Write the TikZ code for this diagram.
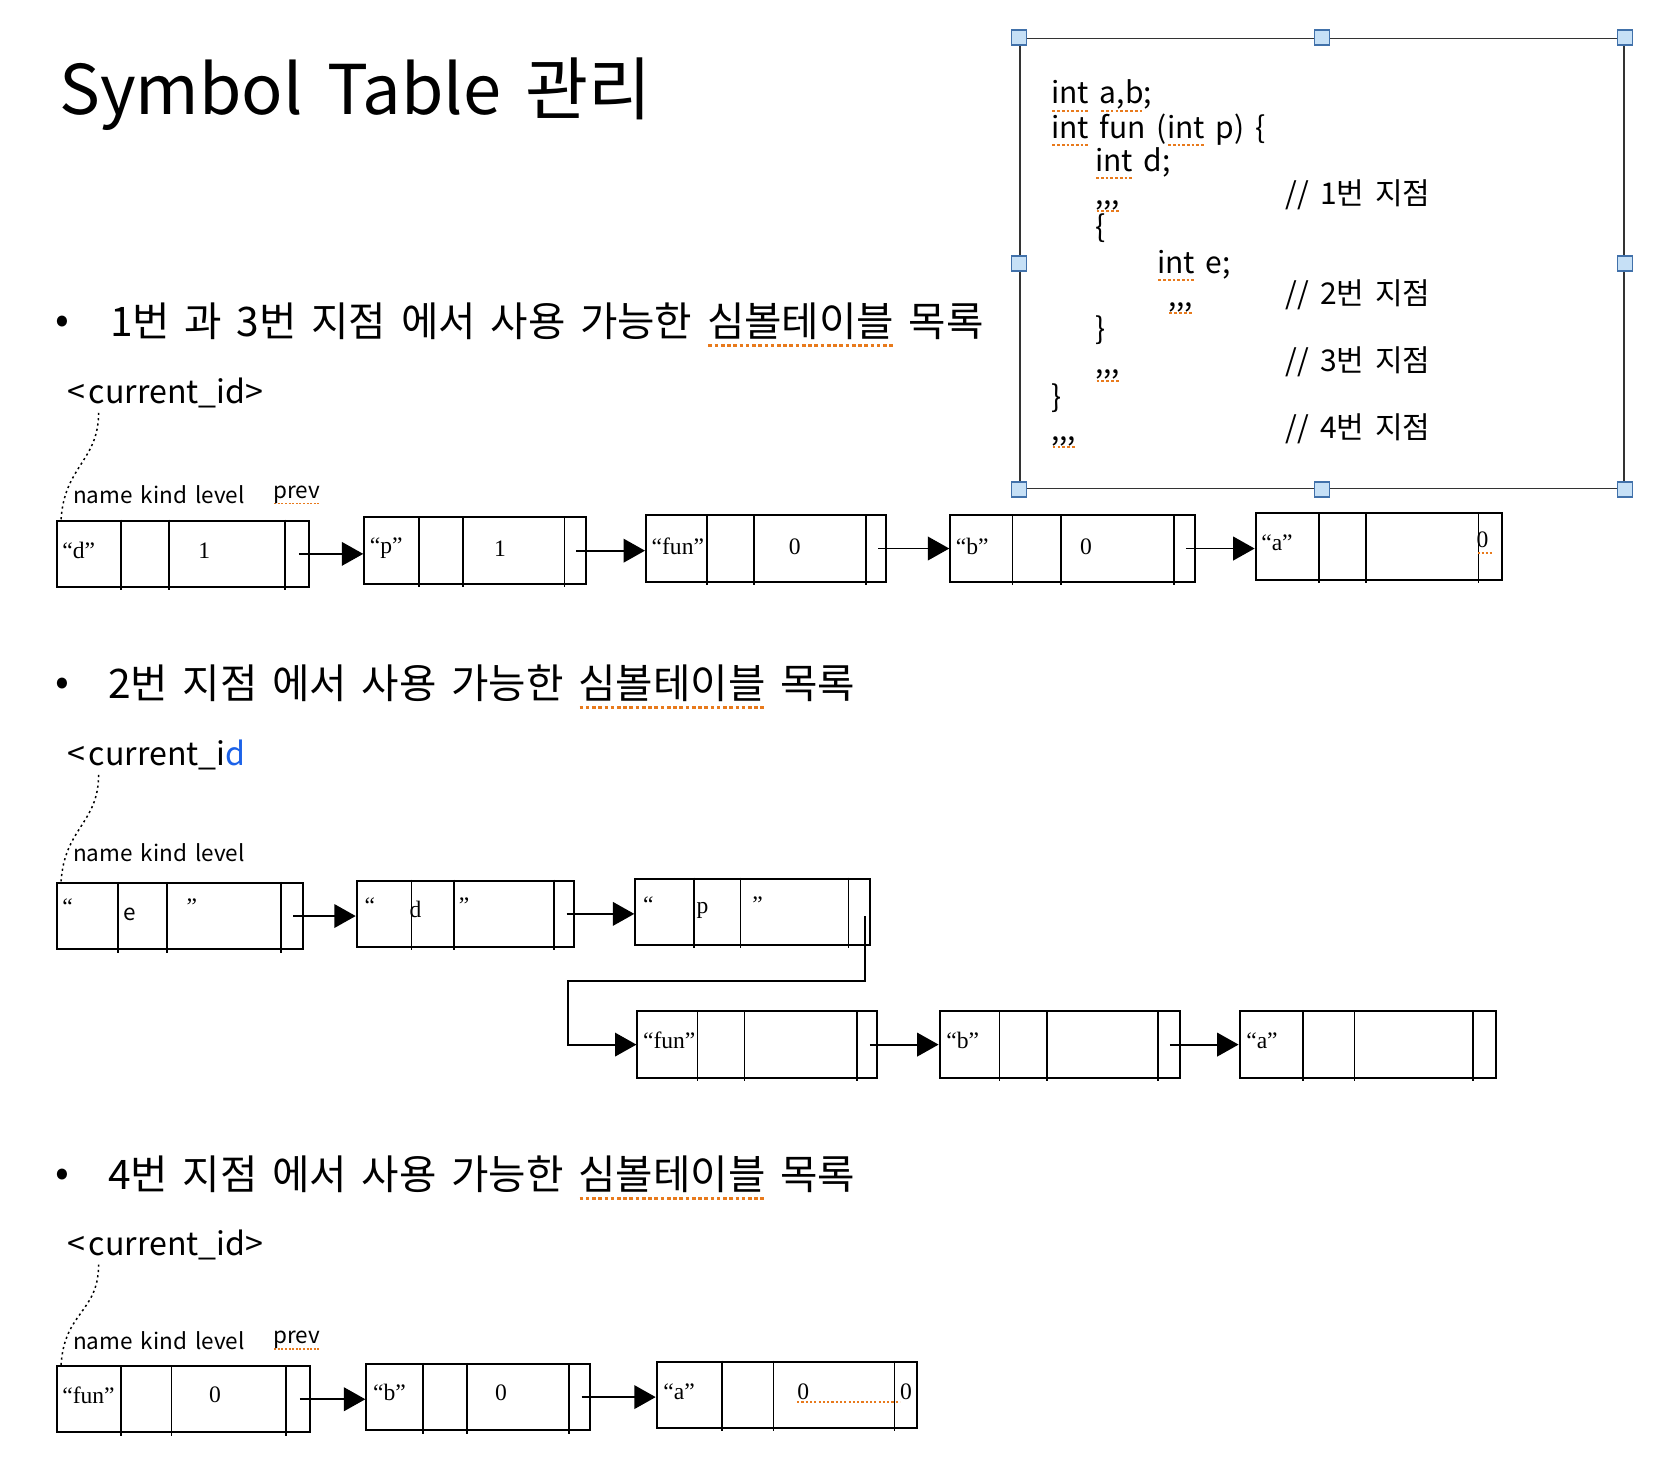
\documentclass[tikz,border=0pt]{standalone}
\usepackage{fontspec}
\setmainfont{Noto Sans CJK KR}
\newfontfamily\titlefont{Noto Sans CJK KR}[WordSpace=1.5]
\newfontfamily\headfont{Noto Sans CJK KR}[WordSpace=2.6]
\newfontfamily\codefont{Noto Sans CJK KR}[WordSpace=2.0]
\newfontfamily\fieldfont{Noto Sans CJK KR}[WordSpace=1.6]
\newfontfamily\cellfont{Liberation Serif}
\usetikzlibrary{arrows.meta,positioning}

\definecolor{handlefill}{RGB}{198,224,246}
\definecolor{handledraw}{RGB}{65,113,170}
\definecolor{spellorange}{RGB}{232,122,28}
\definecolor{idblue}{RGB}{28,98,232}

% spell-check underline
\newlength\spellwd
\newcommand{\spell}[1]{\settowidth{\spellwd}{#1}\rlap{\textcolor{spellorange}{\raisebox{-0.26em}{\xleaders\hbox{\kern0.03em\rule{0.09em}{0.07em}\kern0.03em}\hskip\spellwd}}}#1}

% one symbol record: name, x, y(top), width, dividers
\newcommand{\symrec}[7]{%
  \node[recbox, minimum width=#4pt] (#1) at (#2,#3) {};
  \foreach \off in {#5,#6,#7}
    \draw[divider] ([xshift=\off pt]#1.north west) -- ++(0,-66pt);
}

\tikzset{
  titletext/.style={font=\titlefont\fontsize{64}{68}\selectfont, anchor=west, inner sep=0pt},
  headtext/.style={font=\headfont\fontsize{38}{42}\selectfont, inner sep=0pt},
  idtext/.style={font=\fontsize{30}{34}\selectfont, anchor=west, inner sep=0pt},
  fieldtext/.style={font=\fieldfont\fontsize{21}{24}\selectfont, anchor=west, inner sep=0pt},
  codetext/.style={font=\codefont\fontsize{28}{32}\selectfont, anchor=base west, inner sep=0pt},
  celltext/.style={font=\cellfont\fontsize{22}{24}\selectfont, anchor=west, inner sep=0pt},
  recbox/.style={draw, line width=1.9pt, minimum height=62pt, inner sep=0pt, anchor=north west},
  divider/.style={line width=1.5pt},
  link/.style={line width=1.8pt, -{Triangle[length=20pt,width=22pt]}},
  idptr/.style={line width=1.4pt, dash pattern=on 2pt off 3pt},
  codeframe/.style={draw=black!80, line width=1.8pt, inner sep=0pt},
  handle/.style={draw=handledraw, fill=handlefill, line width=1.3pt, minimum size=14pt, inner sep=0pt},
  squiggle/.style={draw=spellorange, line width=1.3pt, dash pattern=on 2pt off 2pt}
}

\begin{document}
\begin{tikzpicture}[x=1pt,y=-1pt]
\useasboundingbox (0,0) rectangle (1568,1365);

\node[titletext] (title) at (55,88) {Symbol Table 관리};

% code listing
\node[codeframe, minimum width=564pt, minimum height=420pt, anchor=north west] (code) at (951,35) {};
\foreach \a in {north west,north,north east,west,east,south west,south,south east}
  \node[handle] at (code.\a) {};
\foreach \cx/\cy/\txt in {981/97/{\spell{int} \spell{a,b};},
    981/129/{\spell{int} fun (\spell{int} p) \{},
    1022/160/{\spell{int} d;}, 1022/191/{\spell{,,,}}, 1022/222/{\{},
    1080/255/{\spell{int} e;}, 1090/286/{\spell{,,,}}, 1022/317/{\}},
    1022/349/{\spell{,,,}}, 981/380/{\}}, 981/411/{\spell{,,,}},
    1200/191/{// 1번 지점}, 1200/284/{// 2번 지점},
    1200/347/{// 3번 지점}, 1200/409/{// 4번 지점}}
  \node[codetext] at (\cx,\cy) {\txt};

% ---- points 1 and 3
\node[headtext] (dot1) at (58,303) {•};
\node[headtext, right=38pt of dot1] (head1) {1번 과 3번 지점 에서 사용 가능한 \spell{심볼테이블} 목록};
\node[idtext] (cid1) at (63,367) {<\kern3pt current\_id>};
\node[fieldtext] (fa1) at (68,462) {name kind level};
\node[fieldtext] (fb1) at (255,462) {\spell{prev}};

\symrec{ra}{52}{485}{235}{61}{106}{214}
\symrec{rb}{339}{482}{207}{52}{93}{188}
\symrec{rc}{602}{480}{224}{58}{102}{206}
\symrec{rd}{886}{480}{228}{59}{104}{210}
\symrec{re}{1171}{478}{230}{60}{104}{209}

\node[celltext] at (58,514) {“d”};
\node[celltext] at (185,514) {1};
\node[celltext] at (345,512) {“p”};
\node[celltext] at (461,512) {1};
\node[celltext] at (608,510) {“fun”};
\node[celltext] at (736,510) {0};
\node[celltext] at (892,510) {“b”};
\node[celltext] at (1008,510) {0};
\node[celltext] at (1177,507) {“a”};
\node[celltext] at (1378,507) {\spell{0\kern4pt}};

\draw[idptr] ([xshift=29pt,yshift=-4pt]cid1.south west) .. controls +(0,-45pt) and +(3pt,50pt) .. ([xshift=5pt]ra.north west);
\draw[link] ([xshift=-10pt]ra.east) -- (ra.east -| rb.west);
\draw[link] ([xshift=-10pt]rb.east) -- (rb.east -| rc.west);
\draw[link] ([xshift=-8pt]rc.east) -- (rc.east -| rd.west);
\draw[link] ([xshift=-9pt]rd.east) -- (rd.east -| re.west);

% ---- point 2
\node[headtext] (dot2) at (58,641) {•};
\node[headtext, right=36pt of dot2] (head2) {2번 지점 에서 사용 가능한 \spell{심볼테이블} 목록};
\node[idtext] (cid2) at (63,705) {<\kern3pt current\_i\textcolor{idblue}{d}};
\node[fieldtext] (fa2) at (68,796) {name kind level};

\symrec{sa}{52}{823}{230}{58}{104}{210}
\symrec{sb}{332}{821}{203}{52}{92}{185}
\symrec{sc}{592}{819}{219}{56}{99}{200}
\symrec{sd}{594}{943}{224}{57}{101}{206}
\symrec{se}{876}{943}{224}{57}{101}{205}
\symrec{sf}{1156}{943}{239}{60}{108}{219}

\node[celltext] at (58,846) {“};
\node[fieldtext] at (115,853) {e};
\node[celltext] at (174,846) {”};
\node[celltext] at (340,845) {“};
\node[celltext] at (382,849) {d};
\node[celltext] at (428,845) {”};
\node[celltext] at (600,844) {“};
\node[celltext] at (650,850) {p};
\node[celltext] at (702,844) {”};
\node[celltext] at (600,971) {“fun”};
\node[celltext] at (883,971) {“b”};
\node[celltext] at (1163,971) {“a”};

\draw[idptr] ([xshift=29pt,yshift=-4pt]cid2.south west) .. controls +(0,-45pt) and +(3pt,50pt) .. ([xshift=5pt]sa.north west);
\coordinate (sbend) at (530,916);
\draw[link] ([xshift=-10pt]sa.east) -- (sa.east -| sb.west);
\draw[link] ([xshift=-8pt]sb.east) -- (sb.east -| sc.west);
\draw[link] ([xshift=-6pt,yshift=-4pt]sc.east) |- (sbend) |- (sd.west);
\draw[link] ([xshift=-8pt]sd.east) -- (sd.east -| se.west);
\draw[link] ([xshift=-10pt]se.east) -- (se.east -| sf.west);

% ---- point 4
\node[headtext] (dot3) at (58,1099) {•};
\node[headtext, right=36pt of dot3] (head3) {4번 지점 에서 사용 가능한 \spell{심볼테이블} 목록};
\node[idtext] (cid3) at (63,1162) {<\kern3pt current\_id>};
\node[fieldtext] (fa3) at (68,1251) {name kind level};
\node[fieldtext] (fb3) at (255,1251) {\spell{prev}};

\symrec{ta}{52}{1274}{236}{61}{108}{215}
\symrec{tb}{341}{1272}{209}{54}{95}{190}
\symrec{tc}{612}{1270}{243}{62}{110}{223}

\node[celltext] at (58,1302) {“fun”};
\node[celltext] at (195,1302) {0};
\node[celltext] at (348,1300) {“b”};
\node[celltext] at (462,1300) {0};
\node[celltext] at (619,1299) {“a”};
\node[celltext] (tz1) at (744,1299) {0};
\node[celltext] (tz2) at (840,1299) {0};
\draw[squiggle] ([yshift=-2pt]tz1.south west) -- ([yshift=-2pt]tz2.south west);

\draw[idptr] ([xshift=29pt,yshift=-4pt]cid3.south west) .. controls +(0,-45pt) and +(3pt,50pt) .. ([xshift=5pt]ta.north west);
\draw[link] ([xshift=-10pt]ta.east) -- (ta.east -| tb.west);
\draw[link] ([xshift=-9pt]tb.east) -- (tb.east -| tc.west);
\end{tikzpicture}
\end{document}
